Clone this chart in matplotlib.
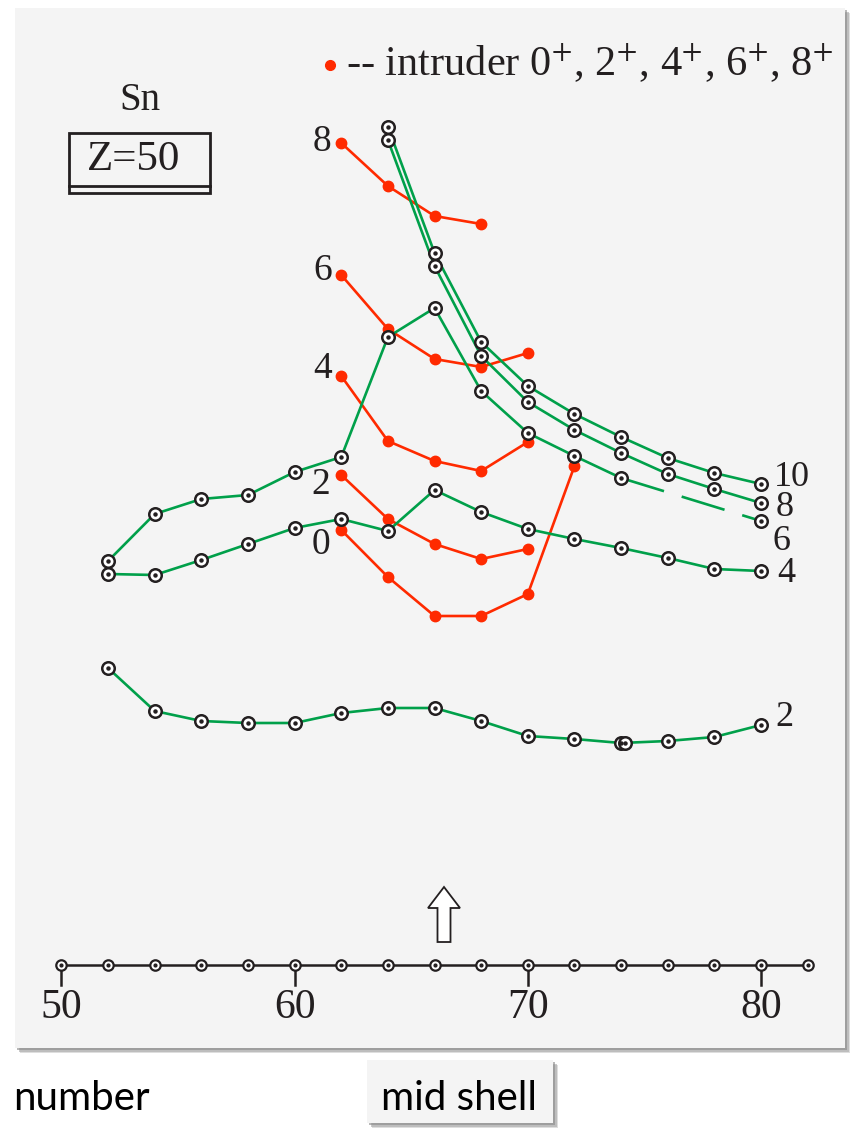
import matplotlib
matplotlib.use("Agg")
import matplotlib.pyplot as plt
from matplotlib.patches import Rectangle, Polygon

plt.rcParams['font.family'] = ['Liberation Serif', 'DejaVu Serif']
plt.rcParams['mathtext.fontset'] = 'stix'

GREEN = '#00a04a'
RED = '#ff2a00'
INK = '#231f20'

# even-N Sn isotopes, yrast levels (energy in plot units)
N_yrast = [52, 54, 56, 58, 60, 62, 64, 66, 68, 70, 72, 74, 76, 78, 80]
E_2 = [2.97, 2.54, 2.44, 2.42, 2.42, 2.52, 2.57, 2.57, 2.44, 2.29, 2.26, 2.22, 2.24, 2.28, 2.40]
E_4 = [3.91, 3.90, 4.05, 4.21, 4.37, 4.46, 4.34, 4.75, 4.53, 4.36, 4.26, 4.17, 4.07, 3.96, 3.94]
N_6 = [52, 54, 56, 58, 60, 62, 64, 66, 68, 70, 72, 74]
E_6 = [4.04, 4.51, 4.66, 4.70, 4.93, 5.08, 6.28, 6.57, 5.74, 5.32, 5.09, 4.87]
N_6_tail = [74, 80]
E_6_tail = [4.87, 4.44]
N_high = [64, 66, 68, 70, 72, 74, 76, 78, 80]
E_8 = [8.25, 6.99, 6.09, 5.63, 5.35, 5.12, 4.91, 4.76, 4.62]
E_10 = [8.38, 7.12, 6.23, 5.79, 5.51, 5.28, 5.07, 4.92, 4.81]
N_2_extra = [74.15]
E_2_extra = [2.22]

# intruder band
N_i0 = [62, 64, 66, 68, 70, 72]
E_i0 = [4.35, 3.88, 3.49, 3.49, 3.71, 4.99]
N_i2 = [62, 64, 66, 68, 70]
E_i2 = [4.90, 4.46, 4.21, 4.06, 4.16]
N_i4 = [62, 64, 66, 68, 70]
E_i4 = [5.89, 5.24, 5.04, 4.94, 5.23]
N_i6 = [62, 64, 66, 68, 70]
E_i6 = [6.90, 6.36, 6.06, 5.98, 6.12]
N_i8 = [62, 64, 66, 68]
E_i8 = [8.22, 7.79, 7.49, 7.41]

axis_N = list(range(50, 83, 2))
tick_N = [50, 60, 70, 80]

fig = plt.figure(figsize=(8.52, 11.32), dpi=100)
fig.patch.set_facecolor('white')

# page layer in pixel coordinates
bg = fig.add_axes([0, 0, 1, 1], zorder=0)
bg.set_xlim(0, 852)
bg.set_ylim(1132, 0)
bg.axis('off')

shadow = [(5, '#c8c8c8', 0.6), (3.5, '#a8a8a8', 0.6), (2, '#8a8a8a', 0.6)]
for off, c, a in shadow:
    bg.add_patch(Rectangle((15 + off, 8 + off), 830, 1040, fc=c, ec='none', alpha=a))
bg.add_patch(Rectangle((15, 8), 830, 1040, fc='#f4f4f4', ec='none'))

for off, c, a in shadow:
    bg.add_patch(Rectangle((367 + off, 1060 + off), 186, 63, fc=c, ec='none', alpha=a))
bg.add_patch(Rectangle((367, 1060), 186, 63, fc='#f4f4f4', ec='none'))
bg.text(459, 1098, 'mid shell', family='Lato', fontsize=29, ha='center', va='center', color='black')
bg.text(150, 1098, 'number', family='Lato', fontsize=29, ha='right', va='center', color='black')

# element / closed shell tag
bg.text(140, 100, 'Sn', fontsize=28, ha='center', va='center', color=INK)
bg.add_patch(Rectangle((69, 133), 141, 60, fill=False, ec=INK, lw=2))
bg.plot([69, 210], [186, 186], color=INK, lw=2)
bg.text(134, 160, 'Z=50', fontsize=31, ha='center', va='center', color=INK)

# legend entry
bg.plot([330], [65], 'o', color=RED, ms=7)
bg.text(346, 63, r'-- intruder 0$^{+}$, 2$^{+}$, 4$^{+}$, 6$^{+}$, 8$^{+}$',
        fontsize=30.5, ha='left', va='center', color=INK)

# spin labels
for txt, x, y in [('8', 322, 142), ('6', 323, 271), ('4', 323, 369), ('2', 321, 485), ('0', 321, 545)]:
    bg.text(x, y, txt, fontsize=27, ha='center', va='center', color=INK)
for txt, x, y in [('10', 774, 477), ('8', 776, 508), ('6', 773, 542), ('4', 777, 573), ('2', 775, 718)]:
    bg.text(x, y, txt, fontsize=26, ha='left', va='center', color=INK)

# mid shell arrow
ax_x = 444
bg.add_patch(Polygon([(ax_x - 6.5, 942), (ax_x + 6.5, 942), (ax_x + 6.5, 908), (ax_x + 16, 908),
                      (ax_x, 887), (ax_x - 16, 908), (ax_x - 6.5, 908)],
                     closed=True, fc='white', ec=INK, lw=1.3))

# data layer
ax = fig.add_axes([0, 0, 1, 1], zorder=1)
ax.set_xlim(47.367, 83.90)
ax.set_ylim(-1.67, 9.65)
ax.patch.set_alpha(0)
ax.axis('off')

for N, E in [(N_i0, E_i0), (N_i2, E_i2), (N_i4, E_i4), (N_i6, E_i6), (N_i8, E_i8)]:
    ax.plot(N, E, color=RED, lw=1.9, marker='o', ms=7.5, mec=RED, zorder=2)

ring = dict(marker='o', ms=9, mfc='white', mec=INK, mew=1.8)
dot = dict(ls='none', marker='o', ms=2.2, color=INK, zorder=5)

ax.plot(N_6_tail, E_6_tail, color=GREEN, lw=1.9, ls=(0, (17, 7)), zorder=3)
for N, E in [(N_yrast, E_2), (N_yrast, E_4), (N_6, E_6), (N_high, E_8), (N_high, E_10)]:
    ax.plot(N, E, color=GREEN, lw=1.9, zorder=3)
for N, E in [(N_yrast, E_2), (N_yrast, E_4), (N_6, E_6), (N_high, E_8), (N_high, E_10),
             (N_6_tail[1:], E_6_tail[1:]), (N_2_extra, E_2_extra)]:
    ax.plot(N, E, ls='none', zorder=4, **ring)
    ax.plot(N, E, **dot)

# neutron number axis
ax.plot([axis_N[0], axis_N[-1]], [0, 0], color=INK, lw=1.8, zorder=3)
for n in tick_N:
    ax.plot([n, n], [0, -0.2], color=INK, lw=1.8, zorder=3)
    ax.text(n, -0.43, str(n), fontsize=30, ha='center', va='center', color=INK)
ax.plot(axis_N, [0] * len(axis_N), ls='none', marker='o', ms=7.5, mfc='white', mec=INK, mew=1.6, zorder=4)
ax.plot(axis_N, [0] * len(axis_N), ls='none', marker='o', ms=2, color=INK, zorder=5)

fig.savefig('out.png', dpi=100)
